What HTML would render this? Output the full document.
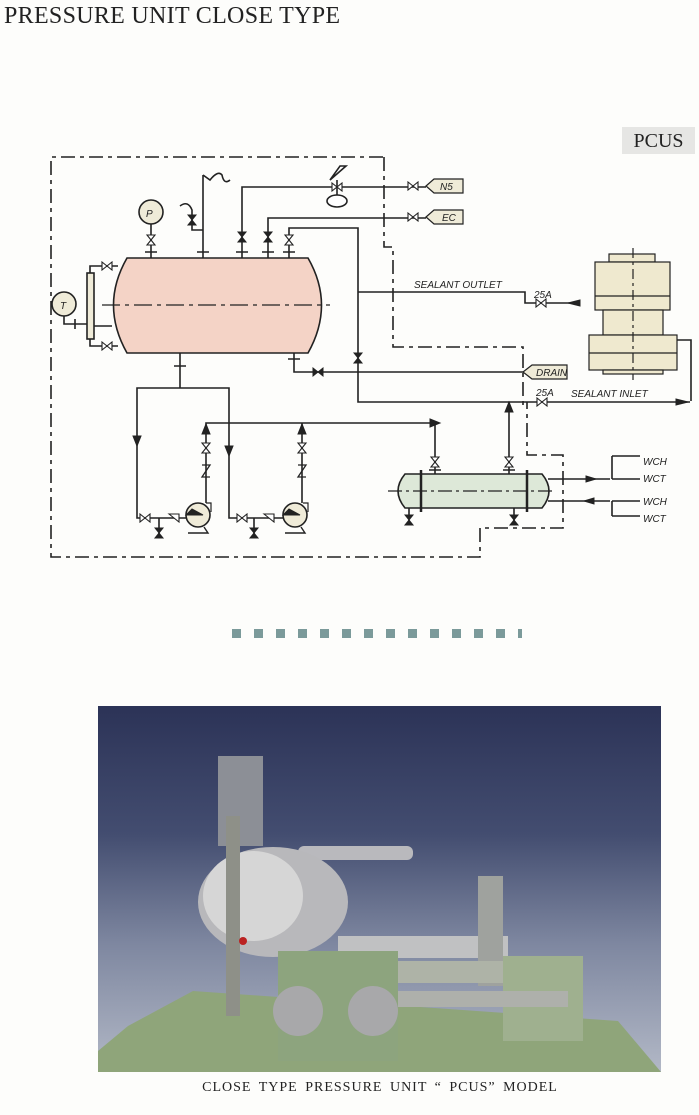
<!DOCTYPE html>
<html><head><meta charset="utf-8"><style>
html,body{margin:0;padding:0;background:#fdfdfb;}
body{width:699px;height:1115px;position:relative;overflow:hidden;font-family:"Liberation Sans",sans-serif;}
.t{position:absolute;left:4px;top:3px;font-family:"Liberation Serif",serif;font-size:24px;color:#222;letter-spacing:0.3px;}
.pc{position:absolute;left:622px;top:127px;width:73px;height:27px;background:#e6e6e4;font-family:"Liberation Serif",serif;font-size:20px;text-align:center;line-height:28px;color:#222;}
.cap{position:absolute;left:0;width:760px;top:1080px;text-align:center;font-family:"Liberation Serif",serif;font-size:14px;letter-spacing:1px;color:#222;word-spacing:3px;}
svg text{font-family:"Liberation Sans",sans-serif;font-style:italic;font-size:10px;fill:#222;stroke:none;}
</style></head><body>
<div class="t">PRESSURE UNIT CLOSE TYPE</div>
<div class="pc">PCUS</div>
<svg width="699" height="1115" style="position:absolute;left:0;top:0" fill="none" stroke="#222" stroke-width="1.6">
<g stroke-dasharray="14,5,4,5">
<path d="M383 157 H51 V557 H480 V528 H563 V455 H527 V402"/>
<path d="M384 157 V247 H393 V347 H523 V410"/>
</g>
<path d="M127 258 H308 Q335 305 308 353 H127 Q100 305 127 258 Z" fill="#f4d3c6"/>
<path d="M102 305 H330" stroke-dasharray="18,5,4,5" stroke-width="1.2"/>
<circle cx="151" cy="212" r="12" fill="#efebd8"/><text x="146" y="217" font-size="12">P</text>
<path d="M151 224 V258 M145 252 H157"/>
<circle cx="64" cy="304" r="12" fill="#efebd8"/><text x="60" y="309" font-size="12">T</text>
<path d="M64 316 V324 H87 M75 319 V329"/>
<rect x="87" y="273" width="7" height="66" fill="#efebd8"/>
<path d="M90 273 V266 H118 M90 339 V346 H118 M94 326 H112"/>
<path d="M203 258 V175 M197 252 H209 M203 230 H192 V210 Q188 200 180 206"/>
<path d="M203 175 L210 180 Q218 170 222 175 Q224 185 230 180"/>
<path d="M242 258 V187 H426 M268 258 V218 H426 M289 258 V228 H358 V402 H690 M236 252 H248 M262 252 H274 M283 252 H295"/>
<path d="M358 292 H525 V303 H578"/>
<path d="M330 180 L340 166 H346 Z" fill="#fff"/><path d="M337 180 V195"/><ellipse cx="337" cy="201" rx="10" ry="6" fill="#fff"/>
<path d="M294 353 V372 H523 M288 359 H300 M180 353 V388 M174 366 H186"/>
<path d="M426 186 L434 179 H463 V193 H434 Z M426 217 L434 210 H463 V224 H434 Z M523 372 L532 365 H567 V379 H532 Z" fill="#efebd8" stroke-width="1.2"/>
<text x="440" y="190">N5</text><text x="442" y="221">EC</text><text x="536" y="376" font-size="9">DRAIN</text>
<text x="414" y="288" font-size="9">SEALANT OUTLET</text><text x="534" y="298" font-size="9">25A</text>
<text x="536" y="396" font-size="9">25A</text><text x="571" y="397" font-size="9">SEALANT INLET</text>
<g fill="#efe9cf" stroke-width="1.2">
<rect x="609" y="254" width="46" height="8"/><rect x="595" y="262" width="75" height="48"/>
<rect x="603" y="310" width="60" height="25"/><rect x="589" y="335" width="88" height="35"/>
<rect x="603" y="370" width="60" height="4"/></g>
<path d="M595 296 H670 M589 353 H677" stroke-width="1.2"/>
<path d="M633 248 V380" stroke-dasharray="10,4,3,4" stroke-width="1.2"/>
<path d="M677 340 H691 V401"/>
<path d="M180 388 H137 V518 H186 M180 388 H229 V518 H283 M159 518 V537 M254 518 V537"/>
<path d="M206 503 V423 H435 V474 M302 503 V423 M509 474 V402"/>
<path d="M202 465 L210 465 L202 477 L210 477 M298 465 L306 465 L298 477 L306 477" stroke-width="1.3"/>
<circle cx="198" cy="515" r="12" fill="#efebd8"/><circle cx="295" cy="515" r="12" fill="#efebd8"/>
<path d="M206 503 H211 V512 M303 503 H308 V512" stroke-width="1.2"/>
<path d="M188 533 H208 L204 527 M285 533 H305 L301 527" stroke-width="1.4"/>
<path d="M405 474 H542 Q556 491 542 508 H405 Q391 491 405 474 Z" fill="#dde8d8"/>
<path d="M388 491 H556" stroke-dasharray="14,4,3,4" stroke-width="1.2"/>
<path d="M421 470 V512 M527 470 V512" stroke-width="2.5"/>
<path d="M429 470 H441 M503 470 H515" stroke-width="1.4"/>
<path d="M409 508 V522 M514 508 V522 M548 479 H610 M548 501 H610 M612 456 V479 M612 501 V516 M612 456 H640 M612 516 H640 M612 479 H640 M612 501 H640"/>
<text x="643" y="465">WCH</text><text x="643" y="482">WCT</text><text x="643" y="505">WCH</text><text x="643" y="522">WCT</text>
<!-- open valves -->
<g fill="#fff" stroke-width="1.1">
<path d="M147 235 L155 245 H147 L155 235 Z"/>
<path d="M285 235 L293 245 H285 L293 235 Z"/>
<path d="M202 443 L210 453 H202 L210 443 Z M298 443 L306 453 H298 L306 443 Z"/>
<path d="M431 457 L439 467 H431 L439 457 Z M505 457 L513 467 H505 L513 457 Z"/>
<path d="M102 262 L112 270 V262 L102 270 Z M102 342 L112 350 V342 L102 350 Z"/>
<path d="M408 182 L418 190 V182 L408 190 Z M408 213 L418 221 V213 L408 221 Z"/>
<path d="M536 299 L546 307 V299 L536 307 Z M537 398 L547 406 V398 L537 406 Z"/>
<path d="M332 183 L342 191 V183 L332 191 Z"/>
<path d="M140 514 L150 522 V514 L140 522 Z M237 514 L247 522 V514 L237 522 Z"/>
<path d="M169 514 L179 522 V514 Z M264 514 L274 522 V514 Z"/>
</g>
<!-- filled valves -->
<g fill="#222" stroke-width="1">
<path d="M188 215 L196 225 H188 L196 215 Z"/>
<path d="M238 232 L246 242 H238 L246 232 Z M264 232 L272 242 H264 L272 232 Z"/>
<path d="M354 353 L362 363 H354 L362 353 Z M313 368 L323 376 V368 L313 376 Z"/>
<path d="M155 528 L163 538 H155 L163 528 Z M250 528 L258 538 H250 L258 528 Z"/>
<path d="M405 515 L413 525 H405 L413 515 Z M510 515 L518 525 H510 L518 515 Z"/>
<!-- arrows -->
<path d="M133 436 L141 436 L137 446 Z M225 446 L233 446 L229 456 Z"/>
<path d="M202 444 L210 444 L206 434 Z" transform="translate(0,-10)"/>
<path d="M298 434 L306 434 L302 424 Z"/>
<path d="M430 419 L440 423 L430 427 Z"/>
<path d="M505 412 L513 412 L509 402 Z"/>
<path d="M580 300 L568 303 L580 306 Z M688 402 L676 399 L676 405 Z"/>
<path d="M598 476 L588 479 L598 482 Z" transform="translate(-2,0) scale(-1,1) translate(-1186,0)"/>
<path d="M588 498 L598 501 L588 504 Z" transform="translate(-4,0) scale(-1,1) translate(-1186,0)"/>
<path d="M186 515 L203 515 L192 509 Z M283 515 L300 515 L289 509 Z"/>
</g>
</svg>
<div style="position:absolute;left:232px;top:629px;width:290px;height:9px;background:repeating-linear-gradient(90deg,#7b9a9a 0 9px,transparent 9px 22px);"></div>
<div style="position:absolute;left:98px;top:706px;width:563px;height:366px;background:linear-gradient(180deg,#2c3357 0%,#434d70 35%,#7e87a0 65%,#b2b8c6 100%);overflow:hidden">
<svg width="563" height="366" style="position:absolute;left:0;top:0">
<polygon points="0,366 563,366 520,315 95,285 30,320 0,345" fill="#8fa57a"/>
<rect x="120" y="50" width="45" height="90" fill="#8c8f96"/>
<rect x="200" y="140" width="115" height="14" rx="6" fill="#b9b9bd"/>
<ellipse cx="175" cy="196" rx="75" ry="55" fill="#b8b8bb"/>
<ellipse cx="155" cy="190" rx="50" ry="45" fill="#d6d6d6"/>
<rect x="128" y="110" width="14" height="200" fill="#8e9088"/>
<rect x="240" y="230" width="170" height="22" fill="#c0c1c2"/>
<rect x="380" y="170" width="25" height="110" fill="#9fa29e"/>
<rect x="220" y="255" width="260" height="22" fill="#aeb3a7"/>
<rect x="405" y="250" width="80" height="85" fill="#9fb08f"/>
<rect x="220" y="285" width="250" height="16" fill="#aeb0ab"/>
<rect x="180" y="245" width="120" height="110" fill="#8da47e"/>
<circle cx="200" cy="305" r="25" fill="#a8a8aa"/>
<circle cx="275" cy="305" r="25" fill="#a8a8aa"/>
<circle cx="145" cy="235" r="4" fill="#b22"/>
</svg>
</div>
<div class="cap">CLOSE TYPE PRESSURE UNIT “ PCUS” MODEL</div>
</body></html>
